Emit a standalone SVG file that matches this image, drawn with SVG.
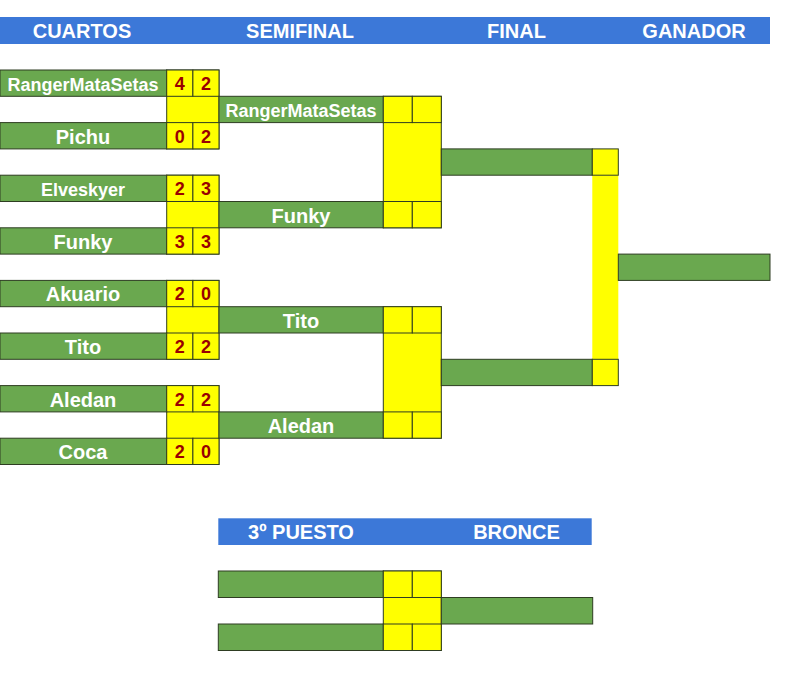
<svg xmlns="http://www.w3.org/2000/svg" width="800" height="674" viewBox="0 0 800 674">
<style>
.hdr{fill:#3c78d8}
.ht{fill:#ffffff;font-family:"Liberation Sans",Arial,sans-serif;font-weight:bold;font-size:20px;text-anchor:middle}
.g{fill:#6aa84f;stroke:#2e3d22;stroke-width:1}
.y{fill:#ffff00;stroke:#2e3d22;stroke-width:1}
.ys{fill:#ffff00}
.nt{fill:#ffffff;font-family:"Liberation Sans",Arial,sans-serif;font-weight:bold;font-size:20px;text-anchor:middle}
.nt.sm{font-size:18px}
.st{fill:#990000;font-family:"Liberation Sans",Arial,sans-serif;font-weight:bold;font-size:18px;text-anchor:middle}
</style>
<rect width="800" height="674" fill="#ffffff"/>
<g id="header">
<rect class="hdr" x="0" y="17" width="770" height="27"/>
<text class="ht" x="82" y="38">CUARTOS</text>
<text class="ht" x="300" y="38">SEMIFINAL</text>
<text class="ht" x="516.5" y="38">FINAL</text>
<text class="ht" x="694" y="38">GANADOR</text>
</g>
<g id="header-bronce">
<rect class="hdr" x="218.3" y="518.3" width="373.4" height="26.7"/>
<text class="ht" x="301" y="539">3º PUESTO</text>
<text class="ht" x="516.5" y="539">BRONCE</text>
</g>
<g id="connectors">
<rect class="y" x="166.7" y="70" width="52.3" height="78.9"/>
<rect class="y" x="166.7" y="175.2" width="52.3" height="78.9"/>
<rect class="y" x="166.7" y="280.4" width="52.3" height="78.9"/>
<rect class="y" x="166.7" y="385.6" width="52.3" height="78.9"/>
<rect class="y" x="383.3" y="96.3" width="58" height="131.5"/>
<rect class="y" x="383.3" y="306.7" width="58" height="131.5"/>
<rect class="ys" x="592.3" y="175.2" width="26" height="184.1"/>
<rect class="y" x="383.3" y="571" width="58" height="79.5"/>
</g>
<g id="q1-ranger">
<rect class="g" x="0" y="70" width="166.7" height="26.3"/>
<text class="nt sm" x="83" y="90.5">RangerMataSetas</text>
<rect class="y" x="166.7" y="70" width="26.2" height="26.3"/><rect class="y" x="192.9" y="70" width="26.1" height="26.3"/>
<text class="st" x="179.8" y="90">4</text><text class="st" x="206" y="90">2</text>
</g>
<g id="q1-pichu">
<rect class="g" x="0" y="122.6" width="166.7" height="26.3"/>
<text class="nt" x="83" y="143.6">Pichu</text>
<rect class="y" x="166.7" y="122.6" width="26.2" height="26.3"/><rect class="y" x="192.9" y="122.6" width="26.1" height="26.3"/>
<text class="st" x="179.8" y="142.6">0</text><text class="st" x="206" y="142.6">2</text>
</g>
<g id="q2-elveskyer">
<rect class="g" x="0" y="175.2" width="166.7" height="26.3"/>
<text class="nt sm" x="83" y="195.7">Elveskyer</text>
<rect class="y" x="166.7" y="175.2" width="26.2" height="26.3"/><rect class="y" x="192.9" y="175.2" width="26.1" height="26.3"/>
<text class="st" x="179.8" y="195.2">2</text><text class="st" x="206" y="195.2">3</text>
</g>
<g id="q2-funky">
<rect class="g" x="0" y="227.8" width="166.7" height="26.3"/>
<text class="nt" x="83" y="248.8">Funky</text>
<rect class="y" x="166.7" y="227.8" width="26.2" height="26.3"/><rect class="y" x="192.9" y="227.8" width="26.1" height="26.3"/>
<text class="st" x="179.8" y="247.8">3</text><text class="st" x="206" y="247.8">3</text>
</g>
<g id="q3-akuario">
<rect class="g" x="0" y="280.4" width="166.7" height="26.3"/>
<text class="nt" x="83" y="301.4">Akuario</text>
<rect class="y" x="166.7" y="280.4" width="26.2" height="26.3"/><rect class="y" x="192.9" y="280.4" width="26.1" height="26.3"/>
<text class="st" x="179.8" y="300.4">2</text><text class="st" x="206" y="300.4">0</text>
</g>
<g id="q3-tito">
<rect class="g" x="0" y="333" width="166.7" height="26.3"/>
<text class="nt" x="83" y="354">Tito</text>
<rect class="y" x="166.7" y="333" width="26.2" height="26.3"/><rect class="y" x="192.9" y="333" width="26.1" height="26.3"/>
<text class="st" x="179.8" y="353">2</text><text class="st" x="206" y="353">2</text>
</g>
<g id="q4-aledan">
<rect class="g" x="0" y="385.6" width="166.7" height="26.3"/>
<text class="nt" x="83" y="406.6">Aledan</text>
<rect class="y" x="166.7" y="385.6" width="26.2" height="26.3"/><rect class="y" x="192.9" y="385.6" width="26.1" height="26.3"/>
<text class="st" x="179.8" y="405.6">2</text><text class="st" x="206" y="405.6">2</text>
</g>
<g id="q4-coca">
<rect class="g" x="0" y="438.2" width="166.7" height="26.3"/>
<text class="nt" x="83" y="459.2">Coca</text>
<rect class="y" x="166.7" y="438.2" width="26.2" height="26.3"/><rect class="y" x="192.9" y="438.2" width="26.1" height="26.3"/>
<text class="st" x="179.8" y="458.2">2</text><text class="st" x="206" y="458.2">0</text>
</g>
<g id="s1-ranger">
<rect class="g" x="219" y="96.3" width="164.3" height="26.3"/>
<text class="nt sm" x="301" y="116.8">RangerMataSetas</text>
<rect class="y" x="383.3" y="96.3" width="29" height="26.3"/><rect class="y" x="412.3" y="96.3" width="29" height="26.3"/>
</g>
<g id="s1-funky">
<rect class="g" x="219" y="201.5" width="164.3" height="26.3"/>
<text class="nt" x="301" y="222.5">Funky</text>
<rect class="y" x="383.3" y="201.5" width="29" height="26.3"/><rect class="y" x="412.3" y="201.5" width="29" height="26.3"/>
</g>
<g id="s2-tito">
<rect class="g" x="219" y="306.7" width="164.3" height="26.3"/>
<text class="nt" x="301" y="327.7">Tito</text>
<rect class="y" x="383.3" y="306.7" width="29" height="26.3"/><rect class="y" x="412.3" y="306.7" width="29" height="26.3"/>
</g>
<g id="s2-aledan">
<rect class="g" x="219" y="411.9" width="164.3" height="26.3"/>
<text class="nt" x="301" y="432.9">Aledan</text>
<rect class="y" x="383.3" y="411.9" width="29" height="26.3"/><rect class="y" x="412.3" y="411.9" width="29" height="26.3"/>
</g>
<g id="f1">
<rect class="g" x="441.3" y="148.9" width="151" height="26.3"/>
<rect class="y" x="592.3" y="148.9" width="26" height="26.3"/>
</g>
<g id="f2">
<rect class="g" x="441.3" y="359.3" width="151" height="26.3"/>
<rect class="y" x="592.3" y="359.3" width="26" height="26.3"/>
</g>
<g id="ganador">
<rect class="g" x="618.3" y="254.1" width="151.7" height="26.3"/>
</g>
<g id="b1">
<rect class="g" x="218.3" y="571" width="165" height="26.5"/>
<rect class="y" x="383.3" y="571" width="29" height="26.5"/><rect class="y" x="412.3" y="571" width="29" height="26.5"/>
</g>
<g id="b2">
<rect class="g" x="218.3" y="624" width="165" height="26.5"/>
<rect class="y" x="383.3" y="624" width="29" height="26.5"/><rect class="y" x="412.3" y="624" width="29" height="26.5"/>
</g>
<g id="bronce">
<rect class="g" x="441.3" y="597.5" width="151.4" height="26.5"/>
</g>
</svg>
